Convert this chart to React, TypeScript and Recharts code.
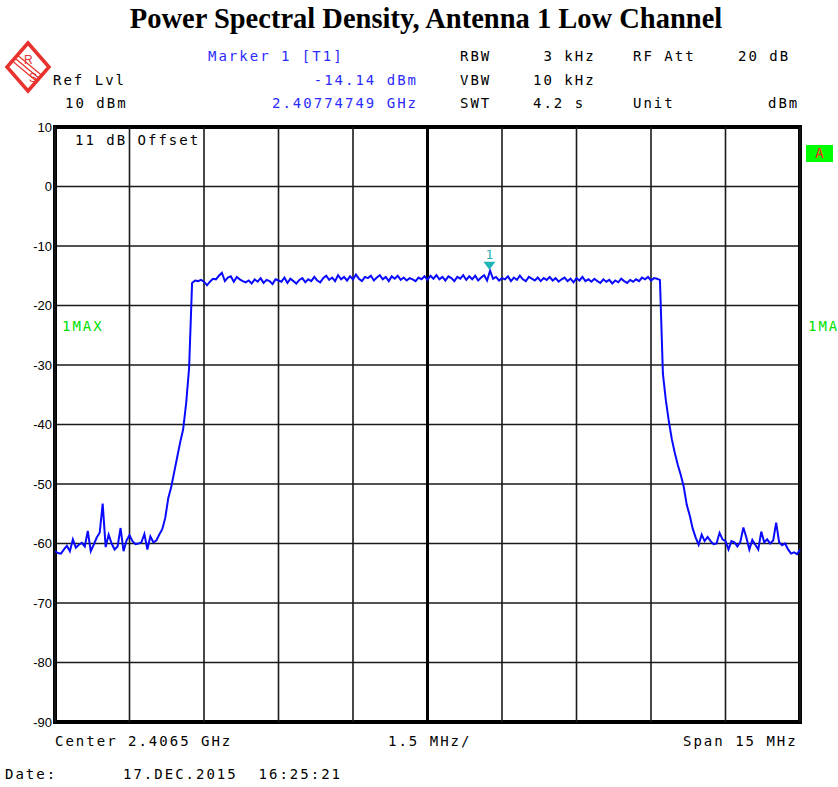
import React from 'react';
import {
  LineChart,
  Line,
  XAxis,
  YAxis,
  CartesianGrid,
  ReferenceLine,
  ReferenceArea,
  ReferenceDot,
} from 'recharts';

// Trace sampled every 0.06 MHz, starting at center - 7.5 MHz
const START_MHZ = -7.5;
const STEP_MHZ = 0.06;

// Levels in dBm
const floorLeft = [
  -61.3, -61.6, -61.7, -61.0, -60.4, -61.3, -59.3, -60.7, -60.2, -59.9,
  -60.5, -57.9, -61.3, -60.2, -59.0, -58.2, -53.3, -60.6, -58.5, -60.0,
  -61.0, -60.5, -57.4, -61.3, -59.5, -58.6, -59.6, -60.1, -60.0, -59.8,
  -58.4, -61.0, -58.8, -59.8, -59.5,
];
const riseLeft = [-58.5, -57.6, -55.7, -52.4, -50.5, -48.0, -45.5, -43.0, -40.8, -36.5, -30.5];
const band = [
  -16.2, -15.8, -15.9, -15.7, -16.0, -16.6, -16.0, -15.5, -15.6, -15.0, -14.5, -15.9, -15.3, -15.1, -16.0,
  -15.2, -15.6, -15.9, -16.1, -15.8, -16.3, -15.6, -16.0, -15.4, -16.2, -15.7, -15.9, -16.4, -15.6, -15.8,
  -16.0, -15.3, -16.2, -15.5, -15.9, -16.3, -15.7, -15.4, -16.1, -15.6, -15.9, -15.2, -15.8, -16.1, -15.4,
  -15.0, -15.7, -15.3, -15.9, -14.9, -15.6, -15.2, -15.8, -15.1, -15.6, -14.8, -15.5, -15.9, -15.2, -15.4,
  -15.0, -15.8, -15.3, -14.9, -15.6, -15.2, -15.9, -15.1, -15.5, -15.0, -15.7, -15.3, -15.8, -15.4, -15.6,
  -15.9, -15.3, -15.6, -15.1, -15.7, -15.0, -15.5, -14.9, -15.6, -15.2, -15.8, -15.1, -15.4, -15.9, -15.2,
  -15.5, -14.9, -15.7, -15.1, -15.6, -15.0, -15.8, -15.3, -14.9, -15.8, -14.14, -15.5, -15.2, -15.8, -15.4,
  -15.6, -15.1, -15.9, -15.3, -15.7, -15.0, -15.6, -15.9, -15.2, -15.5, -15.8, -15.3, -15.9, -15.4, -15.7,
  -15.2, -15.8, -15.4, -16.0, -15.6, -15.3, -15.9, -15.5, -16.1, -15.4, -15.8, -15.2, -15.9, -15.6, -16.0,
  -15.5, -15.9, -16.2, -15.6, -16.0, -15.7, -16.3, -15.8, -16.1, -15.5, -15.9, -16.2, -15.7, -16.0, -15.6,
  -15.9, -15.3, -15.6, -15.2, -15.8, -15.4, -15.5, -15.7,
];
const fallRight = [-31.5, -36.0, -39.5, -42.5, -44.8, -46.8, -48.5, -50.5, -53.5, -55.3, -57.5, -59.0];
const floorRight = [
  -60.2, -58.5, -59.6, -58.9, -59.6, -60.1, -60.0, -58.2, -59.3, -59.6,
  -61.0, -59.6, -59.8, -60.5, -59.7, -57.3, -59.0, -61.0, -59.4, -60.2,
  -61.0, -58.0, -59.8, -59.3, -60.0, -59.5, -56.5, -59.8, -60.3, -60.0,
  -61.0, -61.7, -61.5, -61.8, -61.0,
];

const xGrid = [-7.5, -6, -4.5, -3, -1.5, 0, 1.5, 3, 4.5, 6, 7.5];
const yTicks = [10, 0, -10, -20, -30, -40, -50, -60, -70, -80, -90];

const markerMHz = 1.2475;
const markerLevel = -14.14;

const levels = [...floorLeft, ...riseLeft, ...band, ...fallRight, ...floorRight];
const data = levels.map((v, i) => ({ f: Number((START_MHZ + i * STEP_MHZ).toFixed(3)), level: v }));

const MONO = "'DejaVu Sans Mono', 'Liberation Mono', monospace";

const T = ({ x, y, color = '#000', right, children }: any) => (
  <div
    style={{
      position: 'absolute',
      left: right === undefined ? x : undefined,
      right: right,
      top: y - 9,
      fontFamily: MONO,
      fontSize: 14,
      letterSpacing: '2px',
      lineHeight: '17px',
      whiteSpace: 'pre',
      color,
    }}
  >
    {children}
  </div>
);

const MarkerShape = (props: any) => {
  const { cx, cy } = props;
  return (
    <g>
      <polygon points={`${cx - 6},${cy - 9} ${cx + 6},${cy - 9} ${cx},${cy - 1}`} fill="#1fb5b5" />
      <text x={cx} y={cy - 12} textAnchor="middle" fontSize={13} fontFamily={MONO} fill="#1fb5b5">
        1
      </text>
    </g>
  );
};

const Logo = () => (
  <svg width={48} height={54} style={{ position: 'absolute', left: 4, top: 40 }}>
    <polygon points="24,3 45,27 24,51 3,27" fill="#fff" stroke="#e8322e" strokeWidth={3.5} />
    <line x1={12} y1={19} x2={36} y2={39} stroke="#e8322e" strokeWidth={1.2} />
    <line x1={14.5} y1={16} x2={38.5} y2={36} stroke="#e8322e" strokeWidth={1.2} />
    <line x1={9.5} y1={22} x2={33.5} y2={42} stroke="#e8322e" strokeWidth={1.2} />
    <text x={20} y={24} fontSize={12} fill="#e8322e" fontFamily="Liberation Sans">R</text>
    <text x={25} y={42} fontSize={12} fill="#e8322e" fontFamily="Liberation Sans">S</text>
  </svg>
);

const App: React.FC = () => {
  return (
    <div style={{ position: 'absolute', left: 0, top: 0, width: 838, height: 787, background: '#fff' }}>
      <div
        style={{
          position: 'absolute',
          left: 7,
          top: 1,
          width: 838,
          textAlign: 'center',
          fontFamily: "'Liberation Serif', 'Times New Roman', serif",
          fontWeight: 'bold',
          fontSize: 28.5,
          lineHeight: '36px',
        }}
      >
        Power Spectral Density, Antenna 1 Low Channel
      </div>
      <Logo />
      <T x={208} y={57} color="#2b2bff">Marker 1 [T1]</T>
      <T x={53} y={81}>Ref Lvl</T>
      <T x={65} y={104}>10 dBm</T>
      <T right={420} y={81} color="#2b2bff">-14.14 dBm</T>
      <T right={420} y={104} color="#2b2bff">2.40774749 GHz</T>
      <T x={460} y={57}>RBW</T>
      <T x={533} y={57}> 3 kHz</T>
      <T x={633} y={57}>RF Att</T>
      <T x={738} y={57}>20 dB</T>
      <T x={460} y={81}>VBW</T>
      <T x={533} y={81}>10 kHz</T>
      <T x={460} y={104}>SWT</T>
      <T x={533} y={104}>4.2 s</T>
      <T x={633} y={104}>Unit</T>
      <T x={768} y={104}>dBm</T>

      <LineChart
        width={838}
        height={787}
        data={data}
        margin={{ top: 127, right: 38, bottom: 65, left: 0 }}
      >
        <CartesianGrid stroke="#1a1a1a" strokeWidth={1.6} vertical={false} />
        <XAxis
          dataKey="f"
          type="number"
          domain={[-7.5, 7.5]}
          ticks={xGrid}
          tick={false}
          axisLine={false}
          tickLine={false}
          height={0}
        />
        <YAxis
          type="number"
          domain={[-90, 10]}
          ticks={yTicks}
          interval={0}
          width={55}
          axisLine={false}
          tickLine={false}
          tickSize={3}
          tickMargin={0}
          tick={{ fill: '#000', fontSize: 13, fontFamily: "'Liberation Sans', sans-serif" }}
        />
        {xGrid.map((v) => (
          <ReferenceLine key={v} x={v} stroke="#1a1a1a" strokeWidth={1.6} />
        ))}
        <ReferenceLine x={0} stroke="#000" strokeWidth={3} />
        <ReferenceArea x1={-7.5} x2={7.5} y1={-90} y2={10} fill="none" fillOpacity={0} stroke="#000" strokeWidth={4} />
        <Line
          dataKey="level"
          type="linear"
          stroke="#0a0aff"
          strokeWidth={2}
          dot={false}
          isAnimationActive={false}
        />
        <ReferenceDot x={markerMHz} y={markerLevel} r={0} shape={MarkerShape} />
      </LineChart>

      <T x={75} y={141}>11 dB Offset</T>
      <T x={62} y={327} color="#00e000">1MAX</T>
      <T x={808} y={327} color="#00e000">1MA</T>
      <div
        style={{
          position: 'absolute',
          left: 806,
          top: 145,
          width: 27,
          height: 17,
          background: '#00ff00',
          color: '#ff2020',
          fontFamily: MONO,
          fontSize: 14,
          lineHeight: '17px',
          textAlign: 'center',
        }}
      >
        A
      </div>

      <T x={55} y={742}>Center 2.4065 GHz</T>
      <T x={388} y={742}>1.5 MHz/</T>
      <T x={683} y={742}>Span 15 MHz</T>
      <T x={5} y={775}>Date:</T>
      <T x={123} y={775}>17.DEC.2015  16:25:21</T>
    </div>
  );
};

export default App;
